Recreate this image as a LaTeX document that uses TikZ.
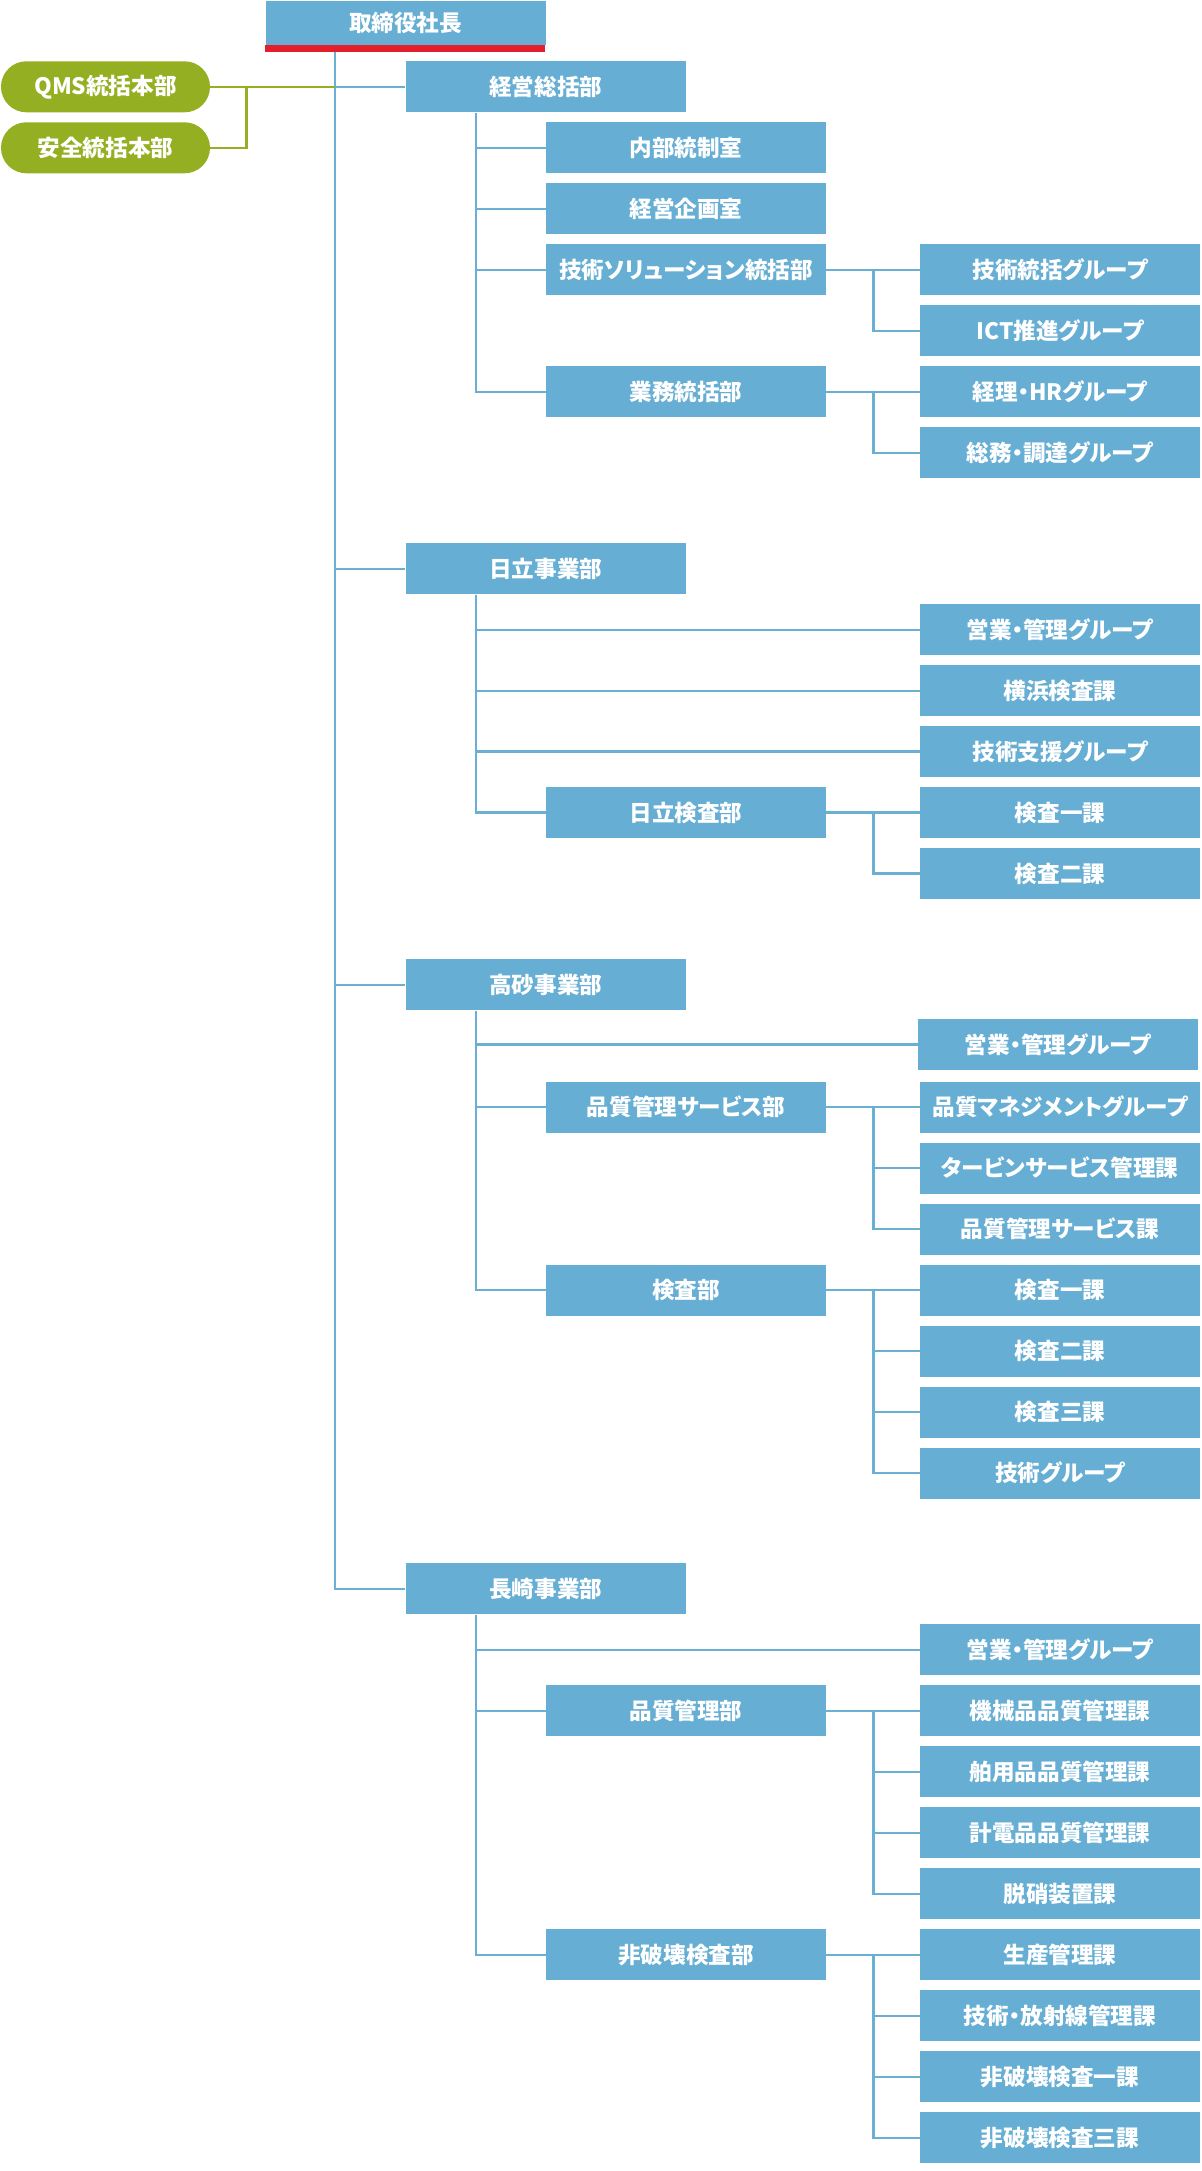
\documentclass[tikz,border=0pt]{standalone}
\usepackage{fontspec}
\setmainfont{Noto Sans CJK JP}[RawFeature=+palt]
\usetikzlibrary{positioning}
\definecolor{boxblue}{HTML}{66AED3}
\definecolor{linkblue}{HTML}{6AB0D5}
\definecolor{hqgreen}{HTML}{94AF21}
\definecolor{barred}{HTML}{E31F2B}

\begin{document}
\begin{tikzpicture}[x=0.5pt,y=-0.5pt,
  unit/.style={fill=boxblue,text=white,minimum width=140pt,minimum height=25.5pt,
    inner sep=0pt,font=\fontsize{11.3}{14}\selectfont\bfseries},
  hq/.style={unit,fill=hqgreen,rounded corners=12.7pt,minimum width=104.5pt},
  link/.style={draw=linkblue,line width=1.2pt},
  hqlink/.style={draw=hqgreen,line width=1.2pt}]
\useasboundingbox (0,0) rectangle (1201,2171);

\node[unit,minimum height=22pt] (pres) at (405.5,23) {取締役社長};
\coordinate (spine) at ([xshift=35pt]pres.south west);

\node[hq] (qms)    at (105.5,86.8)  {QMS統括本部};
\node[hq] (safety) at (105.5,147.8) {安全統括本部};

% 経営総括部
\node[unit] (keiei)    at (545.8,86.8)  {経営総括部};
\node[unit] (naibu)    at (686,147.8)   {内部統制室};
\node[unit] (kikaku)   at (686,208.8)   {経営企画室};
\node[unit] (solution) at (686,269.8)   {技術ソリューション統括部};
\node[unit] (gyomu)    at (686,391.8)   {業務統括部};
\node[unit] (g-tokatsu) at (1060,269.8) {技術統括グループ};
\node[unit] (ict)       at (1060,330.8) {ICT推進グループ};
\node[unit] (keiri)     at (1060,391.8) {経理・HRグループ};
\node[unit] (somu)      at (1060,452.8) {総務・調達グループ};

% 日立事業部
\node[unit] (hitachi)  at (545.8,568.8) {日立事業部};
\node[unit] (h-eigyo)  at (1060,629.7)  {営業・管理グループ};
\node[unit] (yokohama) at (1060,690.7)  {横浜検査課};
\node[unit] (shien)    at (1060,751.6)  {技術支援グループ};
\node[unit] (h-kensa)  at (686,812.6)   {日立検査部};
\node[unit] (h-ka1)    at (1060,812.6)  {検査一課};
\node[unit] (h-ka2)    at (1060,873.5)  {検査二課};

% 高砂事業部
\node[unit] (takasago)  at (545.8,984.9) {高砂事業部};
\node[unit] (t-eigyo)   at (1058,1044.3) {営業・管理グループ};
\node[unit] (t-service) at (686,1107)    {品質管理サービス部};
\node[unit] (t-qm)      at (1060,1107)   {品質マネジメントグループ};
\node[unit] (turbine)   at (1060,1168)   {タービンサービス管理課};
\node[unit] (t-qs)      at (1060,1229)   {品質管理サービス課};
\node[unit] (t-kensa)   at (686,1290)    {検査部};
\node[unit] (t-ka1)     at (1060,1290)   {検査一課};
\node[unit] (t-ka2)     at (1060,1351)   {検査二課};
\node[unit] (t-ka3)     at (1060,1412)   {検査三課};
\node[unit] (t-gijutsu) at (1060,1473)   {技術グループ};

% 長崎事業部
\node[unit] (nagasaki)  at (545.8,1588.8) {長崎事業部};
\node[unit] (n-eigyo)   at (1060,1649.8)  {営業・管理グループ};
\node[unit] (n-qa)      at (686,1710.8)   {品質管理部};
\node[unit] (kikai)     at (1060,1710.8)  {機械品品質管理課};
\node[unit] (hakuyo)    at (1060,1771.8)  {舶用品品質管理課};
\node[unit] (keiden)    at (1060,1832.8)  {計電品品質管理課};
\node[unit] (dassho)    at (1060,1893.8)  {脱硝装置課};
\node[unit] (n-ndt)     at (686,1954.8)   {非破壊検査部};
\node[unit] (seisan)    at (1060,1954.8)  {生産管理課};
\node[unit] (hosha)     at (1060,2015.8)  {技術・放射線管理課};
\node[unit] (ndt1)      at (1060,2076.8)  {非破壊検査一課};
\node[unit] (ndt3)      at (1060,2137.8)  {非破壊検査三課};

% spine and green links
\foreach \n in {keiei,hitachi,takasago,nagasaki}
  \draw[link] (spine) |- (\n);
\draw[hqlink] (qms) -- (qms.east -| spine);
\coordinate (hq-b) at ([xshift=18pt]qms.east);
\draw[hqlink] (hq-b) |- (safety);
\fill[barred] (pres.south west) rectangle ++(280,6.7);

% second level
\coordinate (keiei-s) at ([xshift=35.2pt]keiei.south west);
\foreach \n in {naibu,kikaku,solution,gyomu}
  \draw[link] (keiei-s) |- (\n);
\coordinate (hitachi-s) at ([xshift=35.2pt]hitachi.south west);
\foreach \n in {h-eigyo,yokohama,shien,h-kensa}
  \draw[link] (hitachi-s) |- (\n);
\coordinate (takasago-s) at ([xshift=35.2pt]takasago.south west);
\foreach \n in {t-eigyo,t-service,t-kensa}
  \draw[link] (takasago-s) |- (\n);
\coordinate (nagasaki-s) at ([xshift=35.2pt]nagasaki.south west);
\foreach \n in {n-eigyo,n-qa,n-ndt}
  \draw[link] (nagasaki-s) |- (\n);

% third level
\draw[link] (solution) -- (g-tokatsu);
\draw[link] ([xshift=23.5pt]solution.east) |- (ict);
\draw[link] (gyomu) -- (keiri);
\draw[link] ([xshift=23.5pt]gyomu.east) |- (somu);
\draw[link] (h-kensa) -- (h-ka1);
\draw[link] ([xshift=23.5pt]h-kensa.east) |- (h-ka2);
\draw[link] (t-service) -- (t-qm);
\foreach \n in {turbine,t-qs}
  \draw[link] ([xshift=23.5pt]t-service.east) |- (\n);
\draw[link] (t-kensa) -- (t-ka1);
\foreach \n in {t-ka2,t-ka3,t-gijutsu}
  \draw[link] ([xshift=23.5pt]t-kensa.east) |- (\n);
\draw[link] (n-qa) -- (kikai);
\foreach \n in {hakuyo,keiden,dassho}
  \draw[link] ([xshift=23.5pt]n-qa.east) |- (\n);
\draw[link] (n-ndt) -- (seisan);
\foreach \n in {hosha,ndt1,ndt3}
  \draw[link] ([xshift=23.5pt]n-ndt.east) |- (\n);
\end{tikzpicture}
\end{document}
